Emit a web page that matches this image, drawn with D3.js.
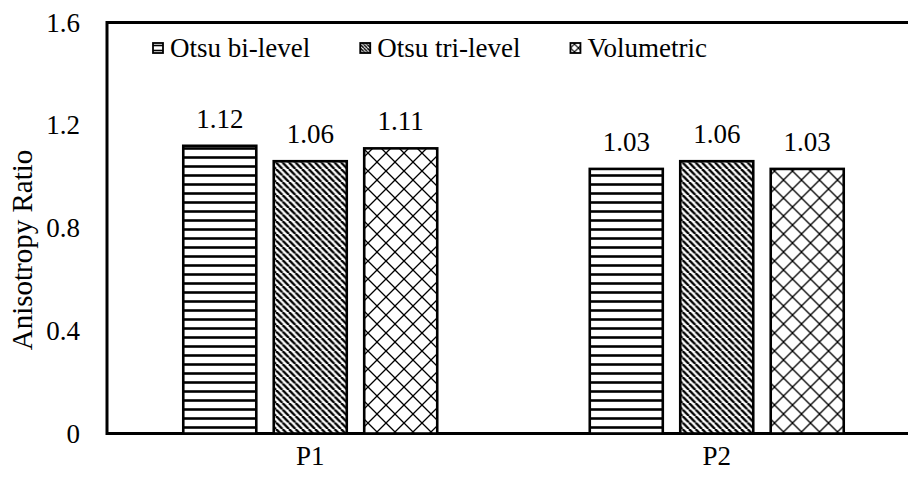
<!DOCTYPE html>
<html>
<head>
<meta charset="utf-8">
<script src="https://cdn.jsdelivr.net/npm/d3@7"></script>
<style>
  html, body { margin: 0; padding: 0; background: #fff; }
  svg text { font-family: "Liberation Serif", Tinos, "Times New Roman", Times, "DejaVu Serif", serif; fill: #000; }
</style>
</head>
<body>
<svg id="chart" width="908" height="481"></svg>
<script>
// Sample categories and the three thresholding methods
const categories = ["P1", "P2"];
const seriesNames = ["Otsu bi-level", "Otsu tri-level", "Volumetric"];
const otsuBi = [1.12, 1.03];
const otsuTri = [1.06, 1.06];
const volumetric = [1.11, 1.03];
const yTicks = [0, 0.4, 0.8, 1.2, 1.6];
const yTickLabels = ["0", "0.4", "0.8", "1.2", "1.6"];
const yTitle = "Anisotropy Ratio";

const seriesValues = [otsuBi, otsuTri, volumetric];
const patternIds = ["pat-horiz", "pat-diag", "pat-cross"];
const FONT_SIZE = 27;

const svg = d3.select("#chart");
const W = 908, H = 481;
const margin = { left: 107, top: 22.5, bottom: 47.5 };
const plotRight = 920; // plot area continues past the canvas edge

const x0 = d3.scaleBand().domain(categories).range([margin.left, plotRight]).padding(0);
const x1 = d3.scaleBand().domain(seriesNames).range([0, x0.bandwidth()])
  .paddingInner(0.193).paddingOuter(0.843);
const y = d3.scaleLinear().domain([0, 1.6]).range([H - margin.bottom, margin.top]);

// Fill patterns
const defs = svg.append("defs");
function horizPattern(id, size, sw) {
  const p = defs.append("pattern").attr("id", id).attr("patternUnits", "userSpaceOnUse")
    .attr("width", size).attr("height", size);
  p.append("rect").attr("width", size).attr("height", size).attr("fill", "#fff");
  p.append("line").attr("x1", 0).attr("x2", size).attr("y1", size / 2).attr("y2", size / 2)
    .attr("stroke", "#000").attr("stroke-width", sw);
}
function diagPattern(id, size, sw) {
  const p = defs.append("pattern").attr("id", id).attr("patternUnits", "userSpaceOnUse")
    .attr("width", size).attr("height", size);
  p.append("rect").attr("width", size).attr("height", size).attr("fill", "#fff");
  [-size, 0, size].forEach(dx => {
    p.append("line").attr("x1", dx).attr("y1", 0).attr("x2", dx + size).attr("y2", size)
      .attr("stroke", "#000").attr("stroke-width", sw);
  });
}
function crossPattern(id, size, sw) {
  const p = defs.append("pattern").attr("id", id).attr("patternUnits", "userSpaceOnUse")
    .attr("width", size).attr("height", size);
  p.append("rect").attr("width", size).attr("height", size).attr("fill", "#fff");
  p.append("path").attr("d", `M0,0L${size},${size}M${size},0L0,${size}`)
    .attr("stroke", "#000").attr("stroke-width", sw).attr("fill", "none");
}
horizPattern("pat-horiz", 9, 2.6);
diagPattern("pat-diag", 6.5, 2.4);
crossPattern("pat-cross", 18, 1.3);
horizPattern("leg-horiz", 5, 1.6);
diagPattern("leg-diag", 3.5, 1.4);
crossPattern("leg-cross", 8, 1.2);
const legendPatterns = ["leg-horiz", "leg-diag", "leg-cross"];

// Plot area frame (left, top, bottom edges visible)
svg.append("rect")
  .attr("x", margin.left).attr("y", y(1.6))
  .attr("width", plotRight - margin.left).attr("height", y(0) - y(1.6))
  .attr("fill", "none").attr("stroke", "#000").attr("stroke-width", 3);

// Bars
const groups = svg.append("g").selectAll("g")
  .data(categories).join("g")
  .attr("transform", d => `translate(${x0(d)},0)`);

const cells = (c, ci) => seriesNames.map((s, si) => ({ s, si, v: seriesValues[si][ci] }));

groups.selectAll("rect")
  .data(cells)
  .join("rect")
  .attr("x", d => x1(d.s))
  .attr("y", d => y(d.v))
  .attr("width", x1.bandwidth())
  .attr("height", d => y(0) - y(d.v))
  .attr("fill", d => `url(#${patternIds[d.si]})`)
  .attr("stroke", "#000").attr("stroke-width", 2.6);

// Value labels
groups.selectAll("text.val")
  .data(cells)
  .join("text")
  .attr("class", "val")
  .attr("x", d => x1(d.s) + x1.bandwidth() / 2)
  .attr("y", d => y(d.v) - 18)
  .attr("text-anchor", "middle")
  .attr("font-size", FONT_SIZE)
  .text(d => d.v.toFixed(2));

// Y axis labels
const yAxis = d3.axisLeft(y).tickValues(yTicks).tickSize(0).tickPadding(27)
  .tickFormat((d, i) => yTickLabels[i]);
const gy = svg.append("g").attr("transform", `translate(${margin.left},0)`).call(yAxis);
gy.attr("font-family", null).attr("font-size", FONT_SIZE);
gy.select(".domain").remove();

// X axis labels
const xAxis = d3.axisBottom(x0).tickSize(0).tickPadding(12);
const gx = svg.append("g").attr("transform", `translate(0,${y(0)})`).call(xAxis);
gx.attr("font-family", null).attr("font-size", FONT_SIZE);
gx.select(".domain").remove();

// Y title
svg.append("text")
  .attr("transform", `translate(32,250) rotate(-90)`)
  .attr("text-anchor", "middle")
  .attr("font-size", 29)
  .text(yTitle);

// Legend
const legend = svg.append("g").attr("transform", "translate(153,48)");
let lx = 0;
seriesNames.forEach((name, i) => {
  const g = legend.append("g").attr("transform", `translate(${lx},0)`);
  g.append("rect").attr("x", 0).attr("y", -5).attr("width", 10).attr("height", 10)
    .attr("fill", `url(#${legendPatterns[i]})`).attr("stroke", "#000").attr("stroke-width", 1.8);
  const t = g.append("text").attr("x", 17).attr("y", 9).attr("font-size", FONT_SIZE).text(name);
  lx += 17 + t.node().getComputedTextLength() + 50;
});
</script>
</body>
</html>
